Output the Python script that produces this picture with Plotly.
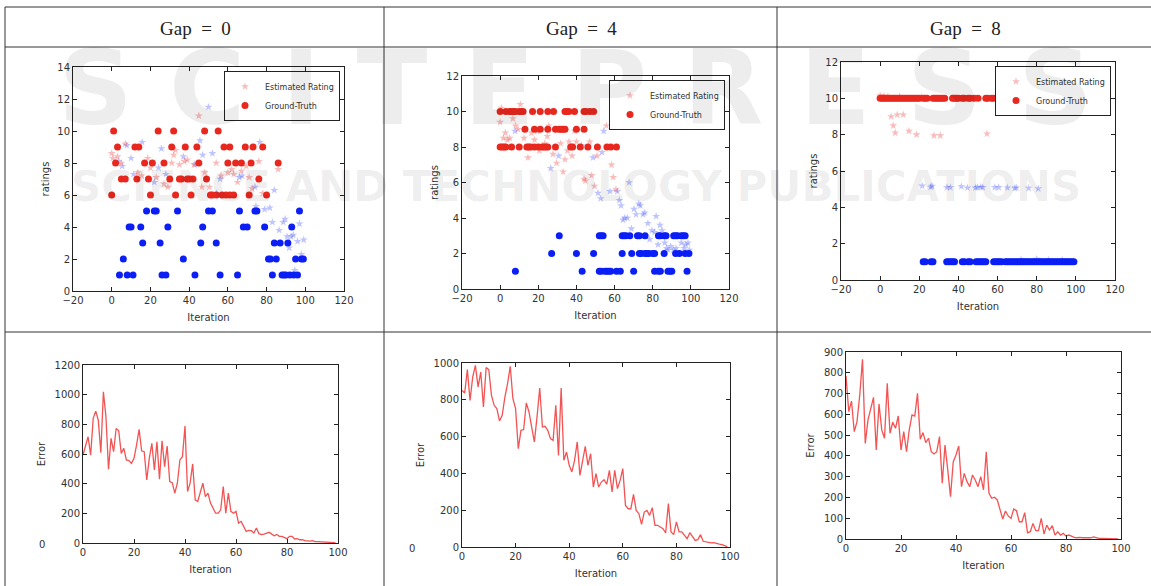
import plotly.graph_objects as go

# ---------------- data ----------------
headers = ["Gap\u00a0\u00a0=\u00a0\u00a00", "Gap\u00a0\u00a0=\u00a0\u00a04", "Gap\u00a0\u00a0=\u00a0\u00a08"]

# Gap = 0 : ground truth (high = red, low = blue)
g0_hi_x = [0, 1, 2, 3, 5, 7, 12, 13, 14, 17, 19, 20, 21, 24, 27, 30, 31, 32, 33, 35, 36, 38, 39, 40, 41, 42, 44, 45,
           48, 49, 51, 52, 54, 55, 57, 58, 59, 60, 61, 61, 63, 64, 67, 69, 71, 72, 73, 76, 78, 80, 86]
g0_hi_y = [6, 10, 8, 9, 7, 7, 9, 7, 9, 8, 7, 6, 8, 10, 8, 7, 9, 10, 6, 7, 7, 9, 7, 7, 6, 7, 9, 8,
           10, 7, 6, 6, 6, 10, 6, 9, 6, 8, 9, 6, 6, 8, 8, 9, 6, 8, 9, 7, 9, 6, 8]
g0_lo_x = [4, 8, 11, 26, 28, 43, 56, 65, 83, 88, 89, 90, 92, 94, 96,
           6, 37, 81, 82, 85, 95, 98, 99,
           16, 25, 46, 54, 84, 87, 91,
           9, 10, 15, 29, 47, 68, 70, 79, 93,
           18, 22, 23, 34, 50, 52, 66, 74, 75, 97]
g0_lo_y = [1] * 15 + [2] * 8 + [3] * 7 + [4] * 9 + [5] * 10
# Gap = 0 : estimated ratings
g0_est_hi_x = [0, 0.6, 3, 5, 7, 13.5, 15.5, 18.6, 20, 23, 27, 29, 31, 32, 33, 35, 37.5, 39, 42.5, 45, 46.5, 48,
               50.5, 54, 56.5, 60, 62, 63, 65, 67, 69.5, 71, 72.5, 76, 78, 86]
g0_est_hi_y = [8.6, 8.3, 8.4, 8.0, 9.2, 7.4, 7.2, 8.3, 7.7, 7.1, 6.7, 6.5, 8.0, 8.5, 8.8, 7.9, 8.1, 8.2, 7.9, 10.95,
               6.5, 7.4, 6.5, 8.0, 7.2, 7.4, 7.6, 7.3, 6.8, 7.5, 7.8, 7.1, 6.4, 8.1, 6.1, 7.6]
g0_est_lo_x = [3.5, 5.4, 7.8, 10, 11.3, 15.7, 22, 24.2, 25.7, 28, 37, 43, 45.6, 47, 50, 52, 54.2, 56, 66, 67.3,
               74, 74.5, 76.5, 79, 81.7, 83, 84, 86.5, 88.6, 89.6, 90.6, 91.7, 92.7, 93.8, 94.6, 96, 97, 98, 99.2]
g0_est_lo_y = [8.1, 7.8, 9.1, 8.3, 7.3, 9.3, 6.8, 7.7, 8.9, 7.3, 8.4, 7.9, 9.4, 8.5, 11.5, 8.6, 6.1, 7.0, 7.1, 7.2,
               6.5, 5.3, 9.3, 5.1, 5.2, 4.3, 6.3, 3.8, 4.3, 4.5, 3.4, 2.7, 3.4, 3.5, 1.3, 3.1, 4.2, 2.3, 3.2]

# Gap = 4
g4_hi_x = [0, 3, 5, 6, 7, 8, 10, 11, 12, 17, 21, 25, 28, 34, 35, 36, 39, 44, 45, 47, 49, 60,
           13, 18, 21, 25, 29, 31, 32, 33, 34, 40, 44,
           0, 1, 2, 3, 6, 10, 14, 15, 16, 18, 20, 22, 23, 24, 25, 29, 37, 38, 42, 46, 51, 56, 58, 61]
g4_hi_y = [10] * 22 + [9] * 11 + [8] * 24
g4_lo_x = [31, 52, 53, 54, 64, 65, 66, 68, 72, 73, 76, 83, 84, 86, 87, 91, 92, 93, 95, 96, 97,
           27, 40, 49, 64, 69, 73, 74, 76, 77, 78, 80, 81, 86, 92, 94, 97, 99,
           8, 43, 52, 53, 55, 56, 57, 58, 61, 63, 70, 81, 83, 84, 88, 89, 90, 98]
g4_lo_y = [3] * 21 + [2] * 17 + [1] * 18
g4_est_hi_x = [0, 0.6, 1.7, 2.7, 3.8, 5, 6.7, 8.1, 9.4, 10.6, 12.5, 14.6, 16.4, 18, 19.5, 20.6, 21.6, 23.4, 24.7,
               25.5, 27.7, 29.6, 31.7, 33, 34, 35.3, 36.1, 37.7, 39, 40, 44, 44.7, 47, 48, 49.5, 50.8, 55.7,
               58.4, 59.3, 60.7]
g4_est_hi_y = [9.4, 10.2, 8.5, 8.8, 8.4, 8.5, 9.6, 9.2, 9.0, 10.4, 8.5, 7.4, 8.8, 8.4, 8.9, 7.8, 9.0, 8.2, 8.6,
               9.2, 7.6, 7.1, 8.2, 6.6, 7.3, 7.8, 8.3, 7.5, 8.9, 8.3, 6.2, 6.1, 8.3, 6.4, 5.8, 7.5, 9.2,
               7.0, 6.3, 5.6]
g4_est_lo_x = [7.8, 30.7, 26.5, 42.6, 48.7, 51.3, 52.7, 53.4, 54.3, 57.6, 61.4, 62.5, 63.4, 64.4, 65.3, 66.7, 67.6,
               68.8, 70.2, 71.3, 72.7, 73.5, 74.9, 75.8, 77.5, 78.4, 79.6, 81, 81.8, 82.8, 83.8, 84.9, 86.3,
               87.3, 88, 89.4, 90.8, 92.2, 95, 96.4, 97.3, 98.5, 99.2]
g4_est_lo_y = [8.9, 7.5, 6.8, 8.1, 7.4, 5.4, 5.1, 7.7, 8.9, 5.5, 5.5, 5.0, 4.7, 3.9, 4.0, 4.0, 6.0,
               3.4, 4.5, 4.2, 4.8, 4.7, 4.2, 4.3, 3.7, 2.8, 3.3, 3.2, 4.1, 2.5, 3.6, 3.3, 2.6,
               2.3, 2.2, 2.4, 2.2, 2.3, 2.6, 2.3, 2.5, 2.6, 2.2]

# Gap = 8
g8_hi_x = [0, 1, 2, 3, 4, 5, 6, 7, 8, 9, 10, 11, 12, 13, 14, 15, 16, 17, 18, 19, 20, 22, 23, 24, 27, 28, 29, 30,
           31, 32, 33, 37, 38, 39, 40, 42, 43, 45, 46, 48, 50, 54, 55, 57, 58, 60, 63, 68, 74]
g8_hi_y = [10] * len(g8_hi_x)
g8_lo_x = [22, 23, 26, 27, 34, 35, 36, 37, 38, 42, 43, 45, 46, 49, 50, 51, 52, 53, 54, 58, 59, 60, 61, 62, 64,
           65, 66, 67, 68, 69, 70, 71, 72, 73, 74, 75, 76, 77, 78, 79, 80, 81, 82, 83, 84, 85, 86, 87, 88,
           89, 90, 91, 92, 93, 94, 95, 96, 97, 98, 99]
g8_lo_y = [1] * len(g8_lo_x)
g8_est_hi_x = [5.6, 6.7, 7.7, 8.7, 11.8, 14.7, 18.6, 27.5, 30.7, 54.6, 0, 2, 4, 10, 21]
g8_est_hi_y = [9.0, 8.5, 8.1, 9.1, 9.1, 8.2, 8.0, 7.95, 7.95, 8.05, 10.15, 10.12, 10.1, 10.1, 10.08]
g8_est_lo_x = [21.5, 25.8, 26.5, 34.1, 35.9, 41.5, 44.6, 48.7, 49.7, 51.4, 52.4, 58.6, 60.6, 65, 68.8, 69.6,
               75.9, 80.8, 72, 80, 86, 93]
g8_est_lo_y = [5.18, 5.12, 5.17, 5.1, 5.1, 5.15, 5.08, 5.08, 5.1, 5.12, 5.1, 5.1, 5.1, 5.08, 5.06, 5.08,
               5.06, 5.03, 1.12, 1.15, 1.1, 1.1]

iterations = list(range(100))
err_gap0 = [593, 650, 716, 593, 840, 889, 828, 609, 1019, 851, 497, 705, 616, 772, 757, 604, 638, 560, 555, 537,
            571, 660, 766, 622, 616, 425, 571, 672, 492, 683, 430, 689, 515, 654, 414, 407, 336, 403, 560, 582,
            788, 347, 403, 533, 291, 280, 336, 403, 313, 336, 269, 235, 201, 201, 224, 381, 201, 336, 213, 201,
            213, 134, 146, 112, 78, 85, 83, 67, 101, 63, 56, 60, 67, 72, 60, 49, 58, 45, 45, 38,
            29, 45, 45, 27, 29, 22, 22, 16, 13, 13, 16, 9, 9, 7, 7, 6, 5, 4, 3, 2]
err_gap4 = [851, 837, 964, 797, 924, 987, 870, 951, 761, 975, 964, 824, 770, 752, 685, 716, 815, 888, 982, 806,
            752, 534, 634, 638, 783, 734, 652, 571, 707, 864, 652, 656, 634, 589, 580, 770, 498, 864, 471, 516,
            444, 408, 471, 571, 389, 480, 547, 444, 507, 326, 399, 326, 353, 366, 341, 417, 299, 417, 317, 362,
            426, 226, 208, 208, 286, 199, 181, 123, 190, 199, 172, 214, 118, 118, 109, 100, 76, 236, 82, 67,
            136, 82, 82, 63, 45, 78, 58, 36, 40, 67, 31, 27, 22, 22, 24, 18, 16, 13, 7, 2]
err_gap8 = [785, 613, 664, 517, 565, 693, 865, 460, 573, 629, 682, 428, 650, 525, 485, 749, 509, 562, 533, 592,
            428, 517, 420, 525, 597, 592, 701, 480, 512, 464, 485, 420, 409, 420, 493, 268, 452, 332, 204, 372,
            404, 448, 252, 316, 276, 252, 308, 284, 252, 300, 236, 420, 220, 196, 201, 188, 140, 96, 135, 111,
            99, 144, 136, 83, 83, 127, 30, 35, 75, 40, 40, 99, 24, 67, 43, 64, 19, 35, 19, 27,
            14, 19, 14, 8, 6, 8, 6, 6, 5, 6, 10, 5, 3, 3, 3, 2, 2, 2, 2, 1]

# ---------------- figure ----------------
W, H = 1151, 586
def fx(p): return p / W
def fy(p): return 1 - p / H

RED = "rgb(232,40,30)"
BLUE = "rgb(10,30,245)"
PINK = "rgba(240,60,60,0.35)"
LBLUE = "rgba(40,60,255,0.3)"
LINE = "rgba(240,40,40,0.8)"

fig = go.Figure()

scatter_sets = [
    (g0_est_hi_x, g0_est_hi_y, g0_est_lo_x, g0_est_lo_y, g0_hi_x, g0_hi_y, g0_lo_x, g0_lo_y),
    (g4_est_hi_x, g4_est_hi_y, g4_est_lo_x, g4_est_lo_y, g4_hi_x, g4_hi_y, g4_lo_x, g4_lo_y),
    (g8_est_hi_x, g8_est_hi_y, g8_est_lo_x, g8_est_lo_y, g8_hi_x, g8_hi_y, g8_lo_x, g8_lo_y),
]
legend_names = ["legend", "legend2", "legend3"]
for i, (ehx, ehy, elx, ely, hx, hy, lx, ly) in enumerate(scatter_sets):
    xa = "x" if i == 0 else f"x{i+1}"
    ya = "y" if i == 0 else f"y{i+1}"
    lg = legend_names[i]
    fig.add_trace(go.Scatter(x=elx, y=ely, mode="markers", xaxis=xa, yaxis=ya, showlegend=False,
                             marker=dict(symbol="star", size=6, color=LBLUE, line=dict(width=0))))
    fig.add_trace(go.Scatter(x=ehx, y=ehy, mode="markers", xaxis=xa, yaxis=ya, name="Estimated Rating",
                             legend=lg, marker=dict(symbol="star", size=6, color=PINK, line=dict(width=0))))
    fig.add_trace(go.Scatter(x=lx, y=ly, mode="markers", xaxis=xa, yaxis=ya, showlegend=False,
                             marker=dict(symbol="circle", size=7, color=BLUE, line=dict(width=0))))
    fig.add_trace(go.Scatter(x=hx, y=hy, mode="markers", xaxis=xa, yaxis=ya, name="Ground-Truth",
                             legend=lg, marker=dict(symbol="circle", size=7, color=RED, line=dict(width=0))))

for j, err in enumerate([err_gap0, err_gap4, err_gap8]):
    fig.add_trace(go.Scatter(x=iterations, y=err, mode="lines", xaxis=f"x{j+4}", yaxis=f"y{j+4}",
                             showlegend=False, line=dict(color=LINE, width=1.3)))

tickfont = dict(family="DejaVu Sans", size=10, color="#333")
titlefont = dict(family="DejaVu Sans", size=10, color="#333")
def axstyle(**kw):
    d = dict(showline=True, linecolor="#222", linewidth=1, mirror="ticks", ticks="inside", ticklen=4,
             tickcolor="#222", showgrid=False, zeroline=False, tickfont=tickfont, title_font=titlefont,
             automargin=False)
    d.update(kw)
    return d

# pixel boxes (left, right, top, bottom)
top_boxes = [(73, 344, 67, 291), (462, 729, 76, 289), (841, 1115, 62, 280)]
bot_boxes = [(83, 338, 365, 543), (462, 730, 363, 547), (846, 1121, 352, 539)]
top_yr = [14, 12, 12]
bot_yr = [(1200, 200), (1000, 200), (900, 100)]

layout = dict(width=W, height=H, margin=dict(l=0, r=0, t=0, b=0, pad=0, autoexpand=False),
              plot_bgcolor="white", paper_bgcolor="white", showlegend=True)
for i, (l, r, t, b) in enumerate(top_boxes):
    n = "" if i == 0 else str(i + 1)
    layout["xaxis" + n] = axstyle(domain=[fx(l), fx(r)], range=[-20, 120], dtick=20, anchor="y" + n,
                                  title=dict(text="Iteration", standoff=8))
    layout["yaxis" + n] = axstyle(domain=[fy(b), fy(t)], range=[0, top_yr[i]], dtick=2, anchor="x" + n,
                                  title=dict(text="ratings", standoff=5))
for j, (l, r, t, b) in enumerate(bot_boxes):
    n = str(j + 4)
    layout["xaxis" + n] = axstyle(domain=[fx(l), fx(r)], range=[0, 100], dtick=20, anchor="y" + n,
                                  title=dict(text="Iteration", standoff=8))
    layout["yaxis" + n] = axstyle(domain=[fy(b), fy(t)], range=[0, bot_yr[j][0]], dtick=bot_yr[j][1],
                                  anchor="x" + n, title=dict(text="Error", standoff=7))

leg_pos = [(340, 71), (725, 80), (1111, 66)]
for i, (lx_, ly_) in enumerate(leg_pos):
    layout[legend_names[i]] = dict(x=fx(lx_), y=fy(ly_), xanchor="right", yanchor="top",
                                   bgcolor="white", bordercolor="#222", borderwidth=1,
                                   font=dict(family="DejaVu Sans", size=8, color="#333"),
                                   tracegroupgap=0, itemwidth=30)
fig.update_layout(**layout)

# table grid
line_style = dict(color="#333", width=1)
shapes = []
for yy in [7, 47, 332]:
    shapes.append(dict(type="line", xref="paper", yref="paper", x0=fx(5), x1=1, y0=fy(yy), y1=fy(yy),
                       line=line_style))
for xx in [5, 384, 777]:
    shapes.append(dict(type="line", xref="paper", yref="paper", x0=fx(xx), x1=fx(xx), y0=0, y1=fy(7),
                       line=line_style))
fig.update_layout(shapes=shapes)

annotations = []
for k, cx in enumerate([195, 581, 965]):
    annotations.append(dict(text=headers[k], x=fx(cx), y=fy(28), xref="paper", yref="paper",
                            showarrow=False, font=dict(family="Liberation Serif", size=19, color="#222"),
                            xanchor="center", yanchor="middle"))
# stray zero labels
for (zx, zy) in [(37, 552), (412, 556)]:
    annotations.append(dict(text="0", x=fx(zx), y=fy(zy), xref="paper", yref="paper", showarrow=False,
                            font=dict(family="DejaVu Sans", size=10, color="#333")))
# watermark
annotations.append(dict(text="S C I T E P R E S S", x=0.5, y=fy(88), xref="paper", yref="paper",
                        showarrow=False,
                        font=dict(family="DejaVu Sans", size=104, weight="bold", color="rgba(0,0,0,0.07)"),
                        xanchor="center", yanchor="middle"))
annotations.append(dict(text="SCIENCE AND TECHNOLOGY PUBLICATIONS", x=0.5, y=fy(186), xref="paper",
                        yref="paper", showarrow=False,
                        font=dict(family="DejaVu Sans", size=42, weight="bold", color="rgba(0,0,0,0.07)"),
                        xanchor="center", yanchor="middle"))
fig.update_layout(annotations=annotations)

fig.write_html("out.html", config={"displayModeBar": False},
               post_script="document.body.style.margin='0';document.body.style.overflow='hidden';")
